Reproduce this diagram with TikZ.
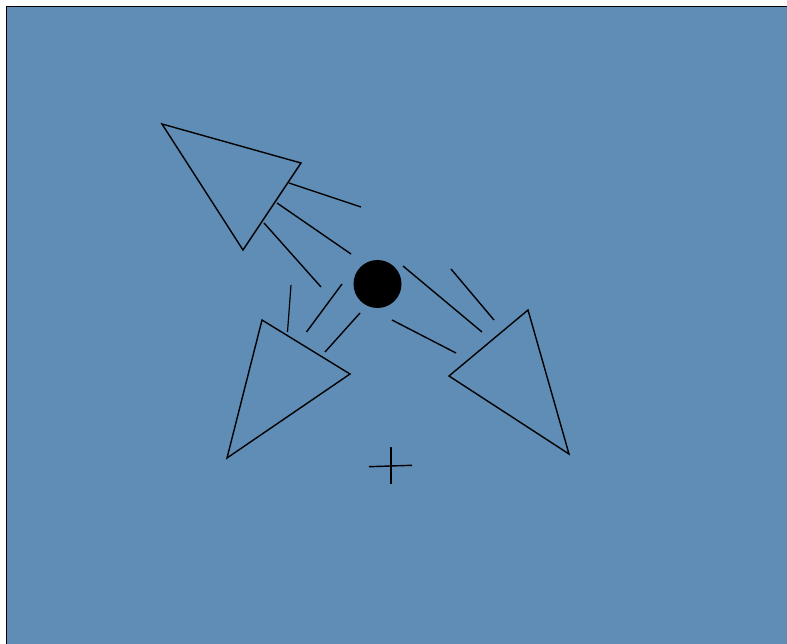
\documentclass[tikz,border=0pt]{standalone}
\usepackage{tikz}
\usetikzlibrary{calc}
\definecolor{bgblue}{RGB}{95,141,181}

\begin{document}
\begin{tikzpicture}[x=1pt,y=-1pt]
    \useasboundingbox (0,0) rectangle (787,644);
    \clip (0,0) rectangle (787,644);
    \fill[white] (0,0) rectangle (787,644);
    \filldraw[fill=bgblue, draw=black, line width=1.4pt] (6.7,6.7) rectangle (800,660);
    % upper left triangle
    \coordinate (a1) at (162,124);
    \coordinate (a2) at (301,163);
    \coordinate (a3) at (243,250);
    \draw[line width=1.4pt] (a1) -- (a2) -- (a3) -- cycle;
    \draw[line width=1.4pt] (289,183) -- (361,207);
    \draw[line width=1.4pt] (277,203) -- (351,254);
    \draw[line width=1.4pt] (264,223) -- (321,287);
    % lower left triangle
    \coordinate (b1) at (262,320);
    \coordinate (b2) at (350,374);
    \coordinate (b3) at (227,458);
    \draw[line width=1.4pt] (b1) -- (b2) -- (b3) -- cycle;
    \draw[line width=1.2pt] (291,285) -- (287.5,332);
    \draw[line width=1.4pt] (342,284) -- (306.5,332);
    \draw[line width=1.4pt] (360,313) -- (325,352);
    % right triangle
    \coordinate (c1) at (528,310);
    \coordinate (c2) at (449,376);
    \coordinate (c3) at (569,454);
    \draw[line width=1.4pt] (c1) -- (c2) -- (c3) -- cycle;
    \draw[line width=1.4pt] (403,266) -- (482,332);
    \draw[line width=1.4pt] (451,269) -- (494,320);
    \draw[line width=1.4pt] (392,320) -- (456,353);
    % ball
    \fill[black] (377.5,284) circle(24);
    % plus
    \draw[line width=1.4pt] (391,447) -- (391,484);
    \draw[line width=1.4pt] (369,466.7) -- (412,465.3);
  \end{tikzpicture}
\end{document}
